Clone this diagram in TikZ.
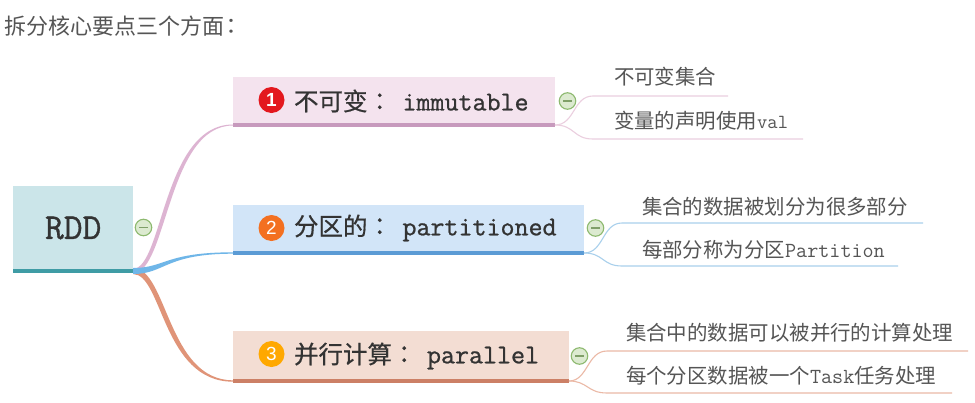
\documentclass[tikz,border=0pt]{standalone}
\usepackage{fontspec}
\setmainfont{Noto Sans CJK SC}
\newfontfamily\numfont{Liberation Sans}
\newfontfamily\cjkmed[FakeBold=0.6]{Noto Sans CJK SC}
\newfontfamily\tccolon{Noto Sans CJK TC}
\newfontfamily\tccolonmed[FakeBold=0.6]{Noto Sans CJK TC}
\newfontfamily\ttmed[FakeBold=0.9]{Latin Modern Mono}
\usetikzlibrary{calc}
\definecolor{ink}{HTML}{333333}
\definecolor{subink}{HTML}{555555}
\definecolor{rootfill}{HTML}{CBE5E9}
\definecolor{rootband}{HTML}{3F9CA5}
\definecolor{pinkfill}{HTML}{F4E3EE}
\definecolor{pinkband}{HTML}{C79ABD}
\definecolor{pinkline}{HTML}{DDB4D2}
\definecolor{pinksub}{HTML}{EBCFDF}
\definecolor{bluefill}{HTML}{D2E5F8}
\definecolor{blueband}{HTML}{5B9BD5}
\definecolor{blueline}{HTML}{6FB6E8}
\definecolor{bluesub}{HTML}{A9D0EC}
\definecolor{orfill}{HTML}{F3DDD3}
\definecolor{orband}{HTML}{CC8066}
\definecolor{orline}{HTML}{E09478}
\definecolor{orsub}{HTML}{EBB9A6}
\definecolor{iconfill}{HTML}{DCEAD0}
\definecolor{iconline}{HTML}{8DB96F}
\definecolor{icondash}{HTML}{7F9F68}
\newcommand{\taper}[6]{\fill[#3] let \p1=(#1),\p2=(#2),\n1={\x1+.32*(\x2-\x1)} in
  (\x1,\y1+#4pt) .. controls (\n1-#6pt,\y1+#4pt) and (\n1-#6pt,\y2+#5pt) .. (\x2,\y2+#5pt)
  -- (\x2,\y2-#5pt) .. controls (\n1+#6pt,\y2-#5pt) and (\n1+#6pt,\y1-#4pt) .. (\x1,\y1-#4pt) -- cycle;}
\tikzset{
  x=1pt,y=-1pt,
  boxnode/.style={anchor=north west,inner sep=0pt,outer sep=0pt},
  txt/.style={anchor=west,inner sep=0pt,outer sep=0pt,text=subink},
  subtxt/.style={anchor=west,inner sep=0pt,outer sep=0pt,text=subink,font=\fontsize{20.45}{24}\selectfont},
  mainlabel/.style={anchor=west,inner sep=0pt,outer sep=0pt,text=ink,font=\cjkmed\fontsize{24.5}{28}\selectfont},
  badge/.style={circle,inner sep=0pt,outer sep=0pt,minimum size=26pt,text=white,font=\numfont\fontsize{19}{20}\selectfont},
  toggle/.style={circle,draw=iconline,fill=iconfill,line width=1.1pt,inner sep=0pt,outer sep=0pt,minimum size=16.5pt},
  subline/.style={line width=1.1pt},
}
\newcommand{\tgl}[2]{\node[toggle] (#1) at (#2) {};
  \draw[icondash,line width=1.6pt] ($(#1.center)+(-4.5,0)$) -- ($(#1.center)+(4.5,0)$);}
\newcommand{\band}[2]{\fill[#2] ($(#1.south west)+(0,-4)$) rectangle (#1.south east);
  \coordinate (#1L) at ($(#1.south west)+(0,-2)$);
  \coordinate (#1R) at ($(#1.south east)+(0,-2)$);}
\newcommand{\mono}[1]{{\ttmed\fontsize{27.2}{28}\selectfont #1}}
\newcommand{\monosub}[2]{{\ttfamily\fontsize{#1}{24}\selectfont #2}}
\newcommand{\maincolon}{{\tccolonmed\char"FF1A}\hspace{10.5pt}}
\begin{document}
\begin{tikzpicture}
\useasboundingbox (0,0) rectangle (975,402);
\fill[white] (0,0) rectangle (975,402);

\node[txt,font=\fontsize{22}{24}\selectfont] (title) at (5,26) {拆分核心要点三个方面\hspace{-4pt}{\tccolon\char"FF1A}};

% boxes
\node[boxnode,fill=rootfill,minimum width=120pt,minimum height=87pt] (root) at (13,186) {};
\node[boxnode,fill=pinkfill,minimum width=322pt,minimum height=50pt] (b1) at (233,77) {};
\node[boxnode,fill=bluefill,minimum width=351pt,minimum height=50pt] (b2) at (233,205) {};
\node[boxnode,fill=orfill,minimum width=336pt,minimum height=52pt] (b3) at (233,331) {};
\band{root}{rootband}
\band{b1}{pinkband}
\band{b2}{blueband}
\band{b3}{orband}

% main connectors
\taper{rootR}{b1L}{pinkline}{2.2}{0.5}{2.2}
\taper{rootR}{b3L}{orline}{3}{0.7}{-2.4}
\taper{rootR}{b2L}{blueline}{3}{0.7}{0}

% sub connectors
\draw[pinksub,subline] (b1R) .. controls (575,125) and (573,96) .. (593,96) -- (728,96);
\draw[pinksub,subline] (b1R) .. controls (575,125) and (573,139) .. (593,139) -- (803,139);
\draw[bluesub,subline] (b2R) .. controls (604,253) and (602,223) .. (622,223) -- (923,223);
\draw[bluesub,subline] (b2R) .. controls (604,253) and (602,266) .. (622,266) -- (898,266);
\draw[orsub,subline] (b3R) .. controls (588,381) and (587,351) .. (607,351) -- (968,351);
\draw[orsub,subline] (b3R) .. controls (588,381) and (587,393) .. (607,393) -- (952,393);

% root
\node[txt,text=ink,font=\ttmed\fontsize{36.5}{38}\selectfont] (rootlabel) at (45,228) {RDD};
\tgl{t0}{143.5,227.5}
\tgl{t1}{567.5,101}
\tgl{t2}{595.5,228}
\tgl{t3}{579.5,356}

% main labels
\node[badge,fill={rgb,255:red,227;green,24;blue,30},font=\numfont\bfseries\fontsize{19}{20}\selectfont] (n1) at (271.5,100) {1};
\node[badge,fill={rgb,255:red,243;green,112;blue,33}] (n2) at (271.5,228) {2};
\node[badge,fill={rgb,255:red,255;green,168;blue,0}] (n3) at (271.5,354) {3};
\node[mainlabel] (l1) at (294,101) {不可变\maincolon\mono{immutable}};
\node[mainlabel] (l2) at (294,228) {分区的\maincolon\mono{partitioned}};
\node[mainlabel] (l3) at (294,356) {并行计算\maincolon\mono{parallel}};

% sub labels
\node[subtxt] (s11) at (614,77) {不可变集合};
\node[subtxt] (s12) at (614,121) {变量的声明使用\monosub{20}{val}};
\node[subtxt] (s21) at (642,207) {集合的数据被划分为很多部分};
\node[subtxt] (s22) at (642,250) {每部分称为分区\monosub{21.5}{Partition}};
\node[subtxt] (s31) at (626,333) {集合中的数据可以被并行的计算处理};
\node[subtxt] (s32) at (626,376) {每个分区数据被一个\monosub{21.5}{Task}任务处理};
\end{tikzpicture}
\end{document}
